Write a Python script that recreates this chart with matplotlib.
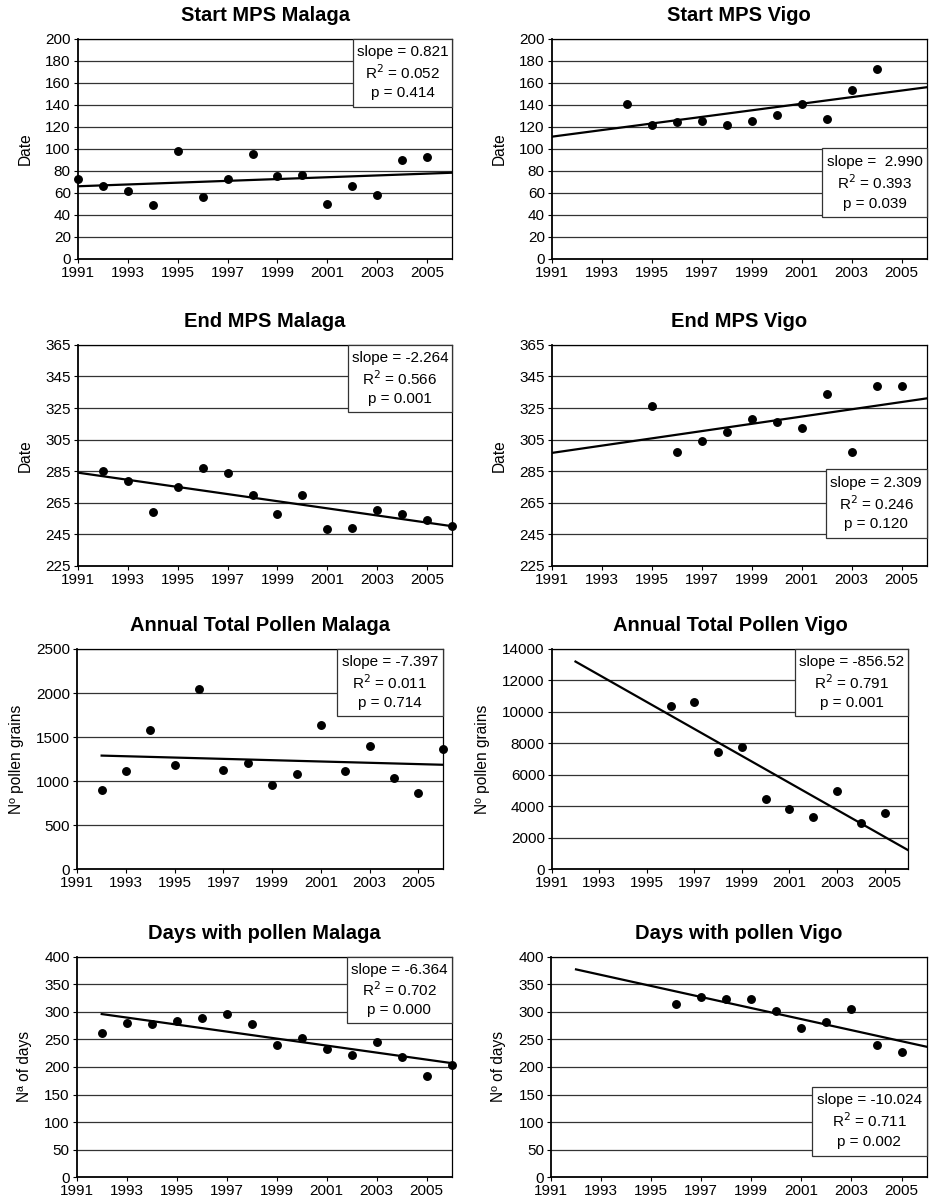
#!/usr/bin/env python
# coding: utf-8

import matplotlib
matplotlib.use('Agg')
import matplotlib.pyplot as plt
from matplotlib.patches import Rectangle

plt.rcParams['font.family'] = ['Liberation Sans', 'DejaVu Sans']

# --- data ---
start_malaga_years = list(range(1991, 2006))
start_malaga = [73, 66, 62, 49, 98, 56, 73, 95, 75, 76, 50, 66, 58, 90, 93]
start_malaga_fit = [66, 78.3]

start_vigo_years = list(range(1994, 2005))
start_vigo = [141, 122, 124, 125, 122, 125, 131, 141, 127, 153, 172]
start_vigo_fit = [111, 155.9]

end_malaga_years = list(range(1992, 2007))
end_malaga = [285, 279, 259, 275, 287, 284, 270, 258, 270, 248, 249, 260, 258, 254, 250]
end_malaga_fit = [284, 250]

end_vigo_years = list(range(1995, 2006))
end_vigo = [326, 297, 304, 310, 318, 316, 312, 334, 297, 339, 339]
end_vigo_fit = [296.5, 331.1]

total_malaga_years = list(range(1992, 2007))
total_malaga = [900, 1120, 1580, 1180, 2040, 1130, 1210, 960, 1080, 1640, 1120, 1400, 1040, 860, 1360]
total_malaga_fit = [1290, 1186]

total_vigo_years = list(range(1996, 2006))
total_vigo = [10400, 10650, 7450, 7800, 4450, 3800, 3350, 5000, 2950, 3600]
total_vigo_fit = [13200, 1209]

days_malaga_years = list(range(1992, 2007))
days_malaga = [261, 279, 278, 284, 289, 296, 278, 239, 252, 233, 221, 245, 219, 183, 204]
days_malaga_fit = [296, 207]

days_vigo_years = list(range(1996, 2006))
days_vigo = [315, 327, 324, 324, 301, 271, 282, 306, 239, 227]
days_vigo_fit = [377, 236.7]

titles = ['Start MPS Malaga', 'Start MPS Vigo', 'End MPS Malaga', 'End MPS Vigo',
          'Annual Total Pollen Malaga', 'Annual Total Pollen Vigo',
          'Days with pollen Malaga', 'Days with pollen Vigo']
ylabels = ['Date', 'Date', 'Date', 'Date', 'Nº pollen grains', 'Nº pollen grains',
           'Nª of days', 'Nº of days']
stats = [('0.821', '0.052', '0.414'), (' 2.990', '0.393', '0.039'),
         ('-2.264', '0.566', '0.001'), ('2.309', '0.246', '0.120'),
         ('-7.397', '0.011', '0.714'), ('-856.52', '0.791', '0.001'),
         ('-6.364', '0.702', '0.000'), ('-10.024', '0.711', '0.002')]

panels = [
    (start_malaga_years, start_malaga, [1991, 2006], start_malaga_fit),
    (start_vigo_years, start_vigo, [1991, 2006], start_vigo_fit),
    (end_malaga_years, end_malaga, [1991, 2006], end_malaga_fit),
    (end_vigo_years, end_vigo, [1991, 2006], end_vigo_fit),
    (total_malaga_years, total_malaga, [1992, 2006], total_malaga_fit),
    (total_vigo_years, total_vigo, [1992, 2006], total_vigo_fit),
    (days_malaga_years, days_malaga, [1992, 2006], days_malaga_fit),
    (days_vigo_years, days_vigo, [1992, 2006], days_vigo_fit),
]

yticks = [range(0, 201, 20), range(0, 201, 20), range(225, 366, 20), range(225, 366, 20),
          range(0, 2501, 500), range(0, 14001, 2000), range(0, 401, 50), range(0, 401, 50)]

# --- layout (figure fractions, box in axes fractions) ---
axes_pos = [
    [0.0835, 0.7849, 0.4023, 0.1830], [0.5926, 0.7849, 0.4028, 0.1830],
    [0.0835, 0.5302, 0.4023, 0.1833], [0.5926, 0.5302, 0.4028, 0.1833],
    [0.0830, 0.2780, 0.3925, 0.1830], [0.5926, 0.2780, 0.3830, 0.1830],
    [0.0824, 0.0222, 0.4028, 0.1832], [0.5918, 0.0222, 0.4035, 0.1832],
]
box_pos = [
    (0.734, 0.691, 1.0, 1.0), (0.722, 0.189, 1.0, 0.503),
    (0.721, 0.695, 1.0, 1.0), (0.731, 0.124, 1.0, 0.437),
    (0.710, 0.696, 1.0, 1.0), (0.682, 0.696, 1.0, 1.0),
    (0.720, 0.698, 1.0, 1.0), (0.6955, 0.098, 1.0, 0.411),
]

fig = plt.figure(figsize=(9.31, 12.04), dpi=100)

for i, (xs, ys, fx, fy) in enumerate(panels):
    ax = fig.add_axes(axes_pos[i])
    yt = list(yticks[i])
    for v in yt[1:]:
        ax.axhline(v, color='#333333', lw=0.9, zorder=1)
    ax.plot(fx, fy, color='black', lw=1.6, zorder=3)
    ax.plot(xs, ys, 'o', color='black', ms=5.4, zorder=4, clip_on=False)

    ax.set_xlim(1991, 2006)
    ax.set_ylim(yt[0], yt[-1])
    ax.set_xticks(range(1991, 2006, 2))
    ax.set_yticks(yt)
    ax.tick_params(axis='both', labelsize=11, length=3, width=0.8, pad=2, color='black')
    for s in ax.spines.values():
        s.set_linewidth(0.9)
        s.set_color('black')
    ax.spines['left'].set_linewidth(1.3)
    ax.spines['bottom'].set_linewidth(1.3)
    ax.set_title(titles[i], fontsize=14.5, fontweight='bold', pad=13)
    ax.set_ylabel(ylabels[i], fontsize=11.2, labelpad=9)

    x0, y0, x1, y1 = box_pos[i]
    ax.add_patch(Rectangle((x0, y0), x1 - x0, y1 - y0, transform=ax.transAxes,
                           facecolor='white', edgecolor='#333333', lw=0.9,
                           zorder=5, clip_on=False))
    cx = (x0 + x1) / 2
    h = y1 - y0
    slope, r2, p = stats[i]
    ax.text(cx, y1 - 0.2 * h, f'slope = {slope}', transform=ax.transAxes,
            ha='center', va='center', fontsize=11, zorder=6)
    ax.text(cx, y1 - 0.5 * h, f'R$^2$ = {r2}', transform=ax.transAxes,
            ha='center', va='center', fontsize=11, zorder=6)
    ax.text(cx, y1 - 0.8 * h, f'p = {p}', transform=ax.transAxes,
            ha='center', va='center', fontsize=11, zorder=6)

plt.savefig('out.png', dpi=100)
